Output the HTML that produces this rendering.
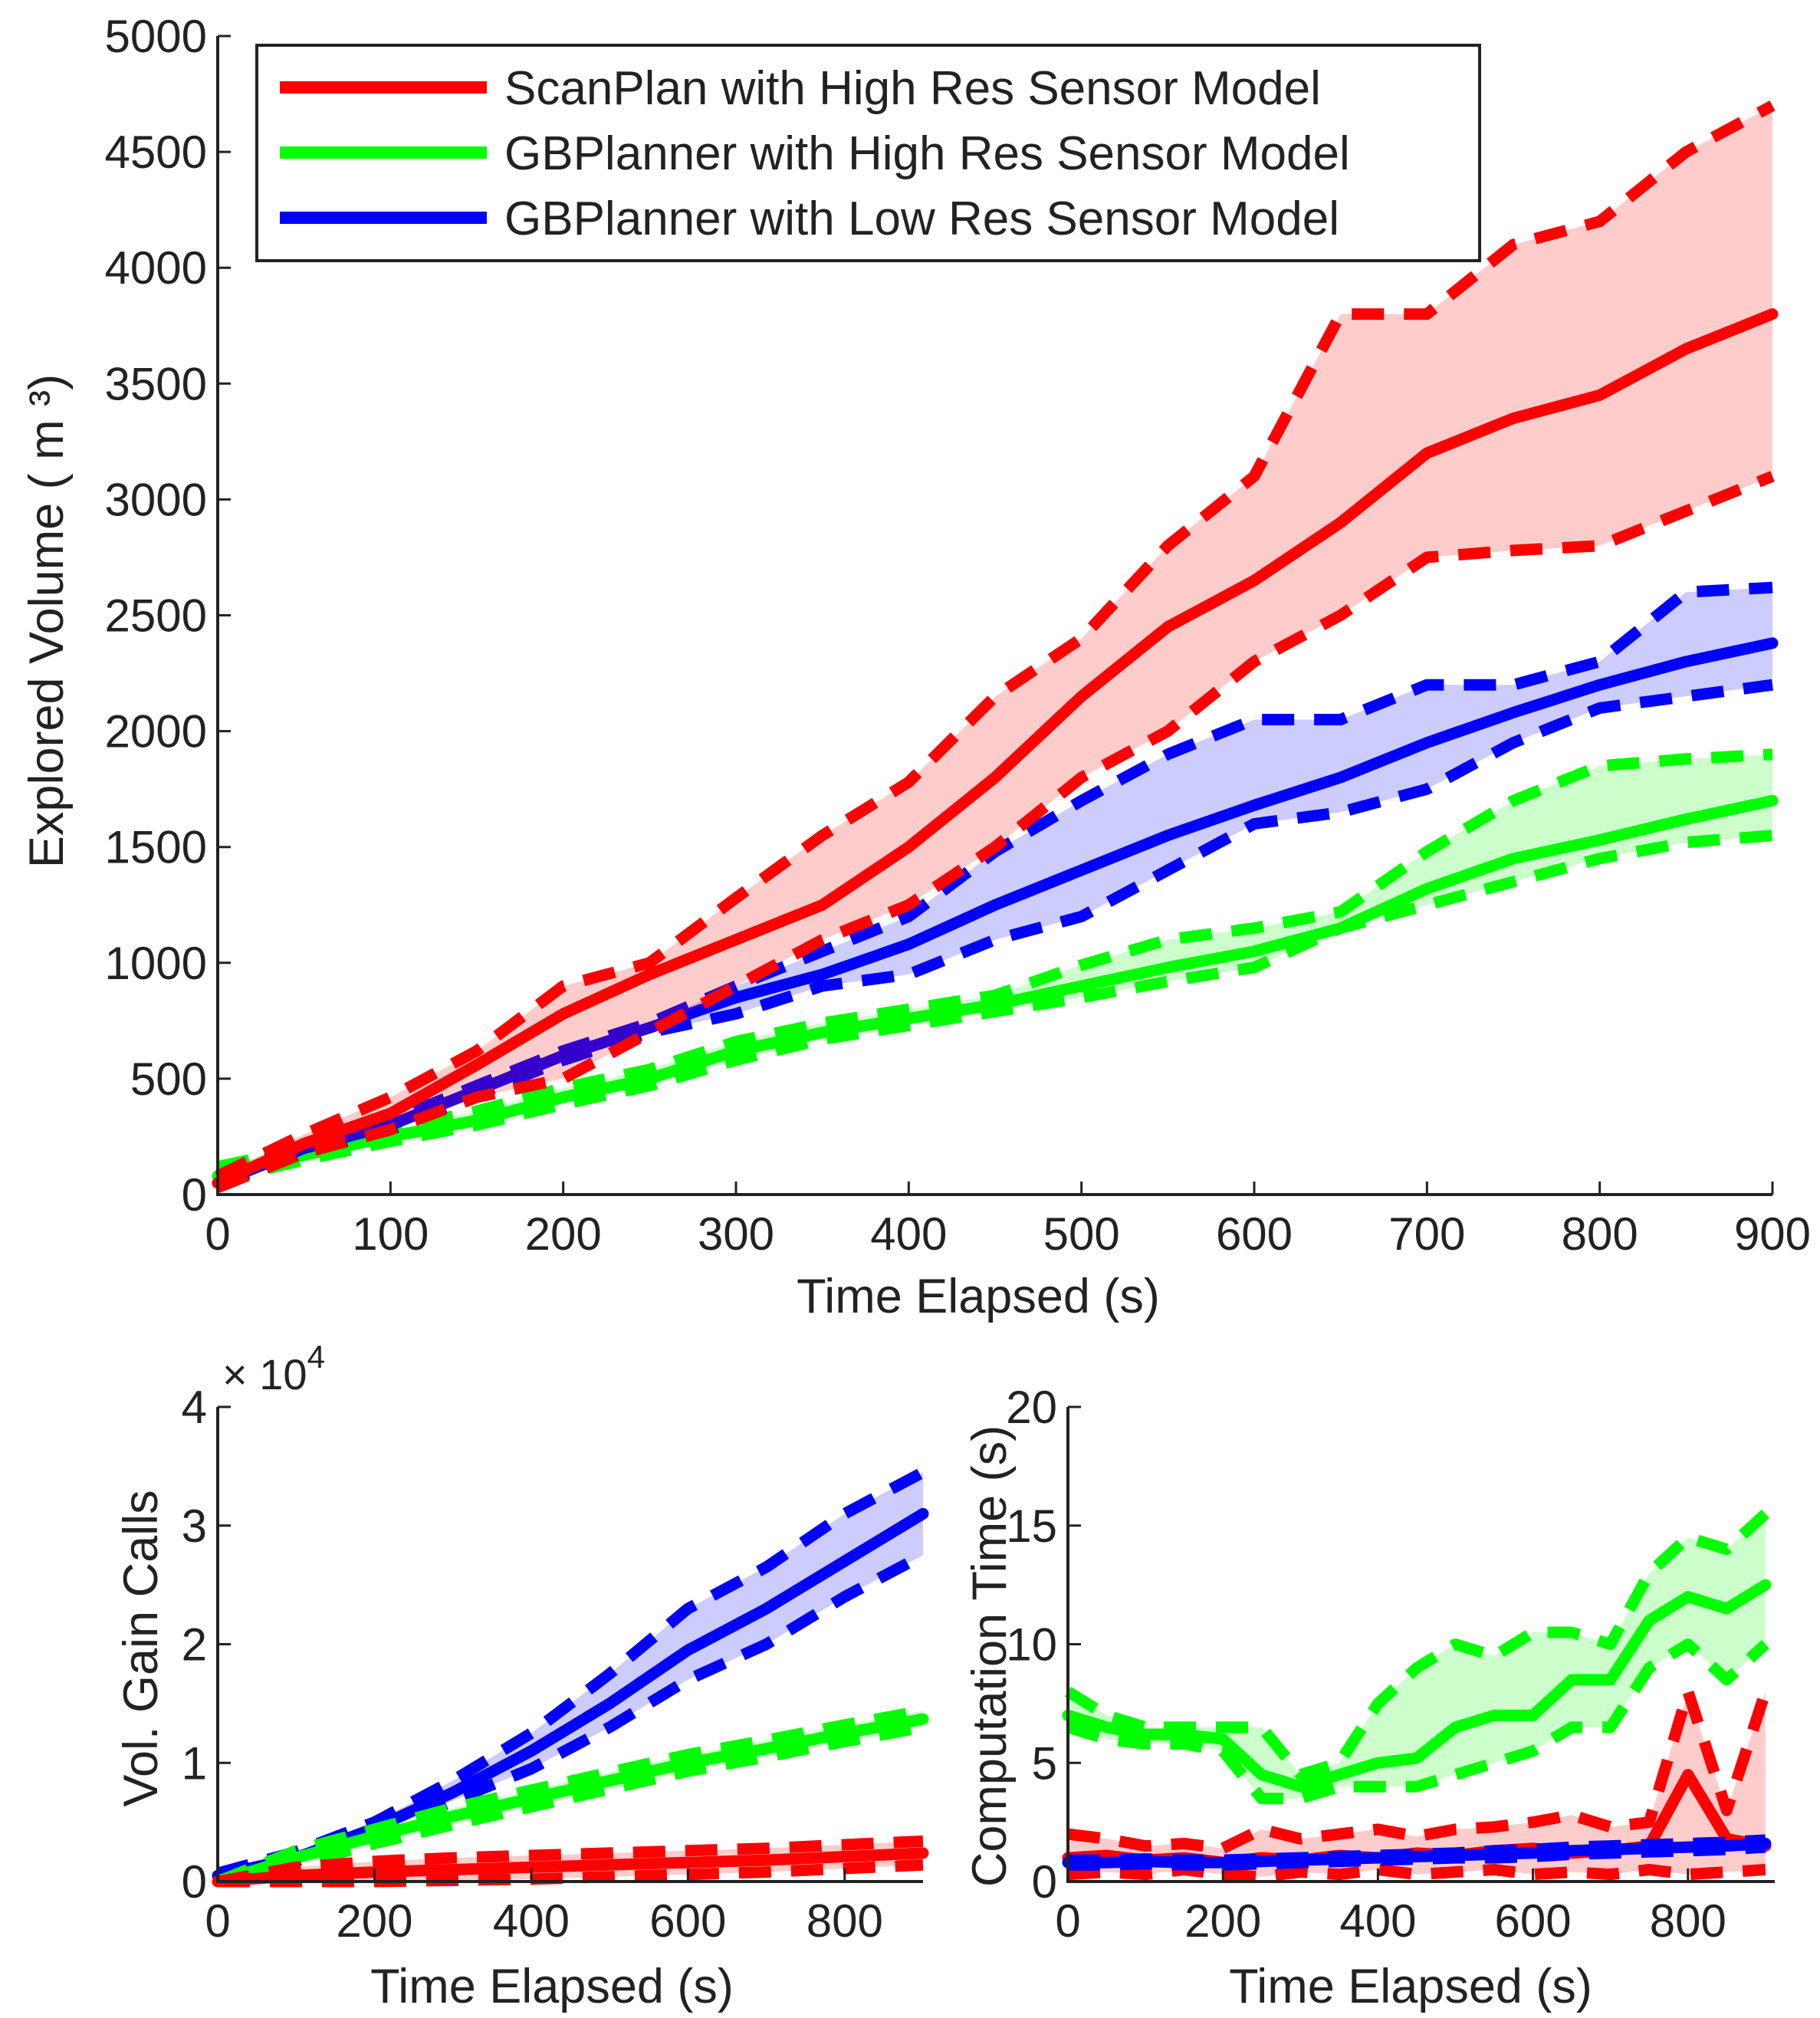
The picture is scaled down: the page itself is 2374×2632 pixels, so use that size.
<!DOCTYPE html>
<html><head><meta charset="utf-8"><style>
body{margin:0;background:#fff}
svg{display:block;font-family:"Liberation Sans",sans-serif}
</style></head><body>
<svg id="s" width="2374" height="2632" viewBox="0 0 2374 2632">
<g>
<rect x="335" y="59" width="1595" height="281" fill="#fff" stroke="#222" stroke-width="4"/>
<line x1="365" y1="114" x2="635" y2="114" stroke="#ff0000" stroke-width="16"/>
<text x="658" y="136" font-size="62" fill="#222">ScanPlan with High Res Sensor Model</text>
<line x1="365" y1="199" x2="635" y2="199" stroke="#00ff00" stroke-width="16"/>
<text x="658" y="221" font-size="62" fill="#222">GBPlanner with High Res Sensor Model</text>
<line x1="365" y1="284" x2="635" y2="284" stroke="#0000ff" stroke-width="16"/>
<text x="658" y="306" font-size="62" fill="#222">GBPlanner with Low Res Sensor Model</text>
</g>
</svg>
<script>
// ---- Main chart data (time in s, volume in m^3)
const tMain = [0,50,100,150,200,250,300,350,400,450,500,550,600,650,700,750,800,850,900];
const redMean = [50,220,350,560,780,950,1100,1250,1500,1800,2150,2450,2650,2900,3200,3350,3450,3650,3800];
const redUp   = [80,260,420,620,900,1000,1280,1550,1780,2150,2400,2800,3100,3800,3800,4100,4200,4500,4700];
const redLo   = [30,180,280,420,500,700,900,1100,1250,1500,1800,2000,2300,2500,2750,2780,2800,2950,3100];
const blueMean= [50,200,300,450,600,720,850,950,1080,1250,1400,1550,1680,1800,1950,2080,2200,2300,2380];
const blueUp  = [70,220,320,470,620,740,900,1050,1200,1480,1700,1900,2050,2050,2200,2200,2300,2600,2620];
const blueLo  = [40,180,280,430,580,700,780,900,950,1100,1200,1400,1600,1650,1750,1950,2100,2150,2200];
const greenMean=[80,170,250,320,420,500,620,700,760,820,900,980,1050,1150,1320,1450,1530,1620,1700];
const greenUp = [120,200,280,360,460,540,660,740,800,860,990,1100,1150,1220,1480,1700,1850,1880,1900];
const greenLo = [60,150,230,300,390,470,580,670,730,790,850,920,980,1150,1250,1350,1450,1520,1550];
const mainYTicks = [0,500,1000,1500,2000,2500,3000,3500,4000,4500,5000];
const mainXTicks = [0,100,200,300,400,500,600,700,800,900];
// ---- Vol gain calls (x1e4)
const tB = [0,100,200,300,400,500,600,700,800,900];
const vgBlueMean=[0.05,0.2,0.45,0.75,1.1,1.5,1.95,2.3,2.7,3.1];
const vgBlueUp  =[0.07,0.25,0.5,0.85,1.25,1.75,2.3,2.65,3.1,3.45];
const vgBlueLo  =[0.03,0.17,0.4,0.68,0.95,1.3,1.7,2.0,2.4,2.75];
const vgGreenMean=[0,0.2,0.38,0.55,0.7,0.85,1.0,1.12,1.25,1.37];
const vgGreenUp =[0,0.26,0.44,0.62,0.77,0.92,1.07,1.19,1.32,1.44];
const vgGreenLo =[0,0.14,0.32,0.48,0.63,0.78,0.93,1.05,1.18,1.3];
const vgRedMean =[0,0.05,0.08,0.1,0.12,0.14,0.16,0.18,0.21,0.24];
const vgRedUp   =[0,0.12,0.17,0.2,0.22,0.24,0.26,0.28,0.31,0.34];
const vgRedLo   =[0,0,0,0.01,0.02,0.04,0.06,0.08,0.11,0.14];
const vgYTicks=[0,1,2,3,4];
const smallXTicks=[0,200,400,600,800];
// ---- Computation time (s)
const tC = [0,50,100,150,200,250,300,350,400,450,500,550,600,650,700,750,800,850,900];
const ctGreenMean=[7,6.5,6.2,6.2,6.0,4.5,4.0,4.5,5.0,5.2,6.5,7,7,8.5,8.5,11,12,11.5,12.5];
const ctGreenUp  =[8,7,6.5,6.5,6.5,6.5,4.5,5,7.5,9,10,9.5,10.5,10.5,10,13,14.5,14,15.5];
const ctGreenLo  =[6.5,6,5.8,5.8,5.5,3.5,3.5,4,4,4,4.5,5,5.5,6.5,6.5,9,10,8.5,10];
const ctRedMean =[1,1.1,0.9,1,0.8,1,0.9,1.1,1,1.2,1.1,1.3,1.4,1.2,1.3,1.5,4.5,1.8,1.5];
const ctRedUp   =[2,1.8,1.5,1.6,1.4,2.2,1.8,2,2.2,1.9,2.2,2.3,2.5,2.8,2.3,2.5,8,3,8];
const ctRedLo   =[0.3,0.4,0.3,0.5,0.3,0.2,0.4,0.3,0.5,0.3,0.4,0.5,0.3,0.4,0.3,0.5,0.3,0.4,0.5];
const ctBlueMean=[0.8,0.8,0.85,0.8,0.8,0.85,0.9,0.95,1.0,1.05,1.1,1.15,1.2,1.3,1.35,1.4,1.45,1.5,1.6];
const ctBlueUp  =[0.9,0.9,0.95,0.9,0.9,0.95,1.0,1.05,1.1,1.15,1.2,1.3,1.35,1.45,1.5,1.55,1.6,1.65,1.75];
const ctBlueLo  =[0.7,0.7,0.75,0.7,0.7,0.75,0.8,0.85,0.9,0.95,1.0,1.0,1.05,1.15,1.2,1.25,1.3,1.35,1.45];
const ctYTicks=[0,5,10,15,20];

const NS="http://www.w3.org/2000/svg";
const svg=document.getElementById('s');
const legend=svg.firstElementChild;
function el(tag,attrs,parent){const e=document.createElementNS(NS,tag);for(const k in attrs)e.setAttribute(k,attrs[k]);(parent||svg).insertBefore(e,parent?null:legend);return e;}

function axes(name,x0,x1,y0,y1,xmin,xmax,ymin,ymax){
  const g=el('g',{});
  
  
  return {g,sx:v=>x0+(v-xmin)/(xmax-xmin)*(x1-x0),sy:v=>y0-(v-ymin)/(ymax-ymin)*(y0-y1),x0,x1,y0,y1};
}
function pts(ax,t,v){return t.map((x,i)=>ax.sx(x).toFixed(1)+','+ax.sy(v[i]).toFixed(1));}
function series(ax,name,t,m,u,l,col,fill,w){
  const band=el('polygon',{points:pts(ax,t,u).concat(pts(ax,t,l).reverse()).join(' '),fill:fill,stroke:'none'},ax.g);
  
  
  [['upper',u],['lower',l]].forEach(([n,v])=>{
    const p=el('polyline',{points:pts(ax,t,v).join(' '),fill:'none',stroke:col,'stroke-width':w,'stroke-dasharray':'42 26','stroke-linejoin':'round'},ax.g);
    
    
  });
  const p=el('polyline',{points:pts(ax,t,m).join(' '),fill:'none',stroke:col,'stroke-width':w,'stroke-linejoin':'round','stroke-linecap':'round'},ax.g);
  
  
}
function frame(ax,xt,yt,fs){
  const a=el('path',{d:`M${ax.x0},${ax.y1}V${ax.y0}H${ax.x1}`,fill:'none',stroke:'#222','stroke-width':4},ax.g);
  
  
  xt.forEach(v=>{const x=ax.sx(v);
    el('line',{x1:x,x2:x,y1:ax.y0,y2:ax.y0-17,stroke:'#222','stroke-width':3},ax.g);
    const t=el('text',{x:x,y:ax.y0+72,'font-size':fs,'text-anchor':'middle',fill:'#222'},ax.g);t.textContent=v;
    
    });
  yt.forEach(v=>{const y=ax.sy(v);
    el('line',{x1:ax.x0,x2:ax.x0+17,y1:y,y2:y,stroke:'#222','stroke-width':3},ax.g);
    const t=el('text',{x:ax.x0-14,y:y+21,'font-size':fs,'text-anchor':'end',fill:'#222'},ax.g);t.textContent=v;
    
    });
}
function label(txt,x,y,rot,name,fs){
  const t=el('text',{x:x,y:y,'font-size':fs||63,'text-anchor':'middle',fill:'#222',transform:rot?`rotate(-90 ${x} ${y})`:''});
  t.textContent=txt;
  
  
  return t;
}
// Main
const A=axes('main-chart',284,2312,1558,47,0,900,0,5000);
series(A,'green-highres',tMain,greenMean,greenUp,greenLo,'#00ff00','rgba(0,255,0,0.2)',15);
series(A,'blue-lowres',tMain,blueMean,blueUp,blueLo,'#0000ff','rgba(0,0,255,0.2)',15);
series(A,'red-scanplan',tMain,redMean,redUp,redLo,'#ff0000','rgba(255,0,0,0.2)',15);
frame(A,mainXTicks,mainYTicks,60);
label('Time Elapsed (s)',1276,1712,false,'x-axis-title');
label('Explored Volume (    m ³)',82,810,true,'y-axis-title');
// Vol gain
const B=axes('vol-gain-chart',284,1204,2454,1835,0,900,0,4);
series(B,'vg-blue',tB,vgBlueMean,vgBlueUp,vgBlueLo,'#0000ff','rgba(0,0,255,0.2)',15);
series(B,'vg-green',tB,vgGreenMean,vgGreenUp,vgGreenLo,'#00ff00','rgba(0,255,0,0.2)',15);
series(B,'vg-red',tB,vgRedMean,vgRedUp,vgRedLo,'#ff0000','rgba(255,0,0,0.2)',15);
frame(B,smallXTicks,vgYTicks,60);
label('Time Elapsed (s)',720,2612,false,'x-axis-title-vol-gain');
label('Vol. Gain Calls',205,2150,true,'y-axis-title-vol-gain');
const ex=el('text',{x:290,y:1812,'font-size':56,fill:'#222'});ex.innerHTML='× 10<tspan dy="-28" font-size="42">4</tspan>';


// Computation time
const C=axes('computation-time-chart',1393,2315,2454,1835,0,912,0,20);
series(C,'ct-green',tC,ctGreenMean,ctGreenUp,ctGreenLo,'#00ff00','rgba(0,255,0,0.2)',15);
series(C,'ct-red',tC,ctRedMean,ctRedUp,ctRedLo,'#ff0000','rgba(255,0,0,0.2)',15);
series(C,'ct-blue',tC,ctBlueMean,ctBlueUp,ctBlueLo,'#0000ff','rgba(0,0,255,0.2)',15);
frame(C,smallXTicks,ctYTicks,60);
label('Time Elapsed (s)',1840,2612,false,'x-axis-title-comp-time');
label('Computation Time (s)',1312,2160,true,'y-axis-title-comp-time');
</script>
</body></html>
